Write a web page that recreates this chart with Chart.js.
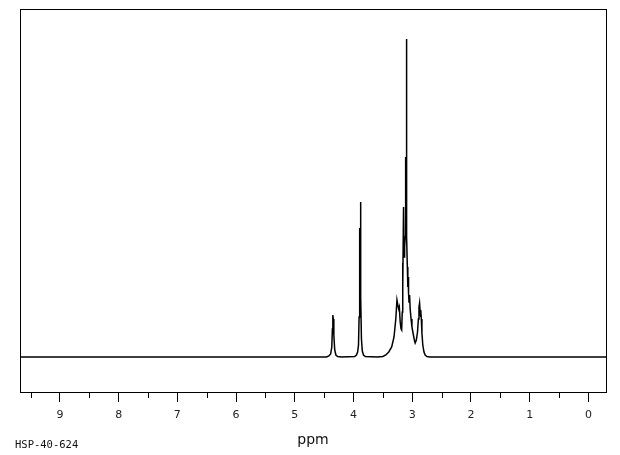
<!DOCTYPE html>
<html>
<head>
<meta charset="utf-8">
<script src="https://cdn.jsdelivr.net/npm/chart.js@4/dist/chart.umd.min.js"></script>
<style>
    html, body { margin: 0; padding: 0; background: #fff; }
    #wrap { width: 620px; height: 455px; position: relative; }
</style>
</head>
<body>
<div id="wrap"><canvas id="nmrChart"></canvas></div>
<script>
// Spectrum (chemical shift in ppm, intensity above baseline)
const shiftPpm = [
    9.68, 4.46, 4.42, 4.39, 4.37, 4.36, 4.352, 4.345, 4.335, 4.32, 4.30, 4.27, 4.20,
    3.98, 3.95, 3.93, 3.915, 3.905, 3.898, 3.892, 3.886, 3.881, 3.875, 3.865, 3.85, 3.83, 3.80, 3.60,
    3.50, 3.45, 3.40, 3.35, 3.31, 3.28, 3.26, 3.245, 3.23, 3.22, 3.205, 3.19, 3.18,
    3.17, 3.165, 3.158, 3.148, 3.14, 3.13, 3.12, 3.112, 3.106, 3.102, 3.096, 3.09, 3.083,
    3.075, 3.068, 3.063, 3.055, 3.045, 3.035, 3.02, 3.005, 2.98, 2.96, 2.95, 2.93, 2.91,
    2.895, 2.885, 2.875, 2.865, 2.858, 2.852, 2.845, 2.835, 2.82, 2.80, 2.78, 2.75, 2.70, -0.30
];
const intensity = [
    0, 0, 1, 3, 10, 28, 42, 38, 22, 7, 2, 0.5, 0,
    0.5, 2, 5, 12, 40, 129, 70, 90, 155, 60, 18, 6, 2, 0.5, 0,
    0.5, 2, 5, 10, 20, 38, 57, 52, 48, 50, 35, 28, 27,
    45, 94, 70, 150, 100, 110, 120, 200, 140, 318, 170, 120, 90,
    70, 80, 64, 55, 62, 48, 38, 30, 22, 16, 14, 17, 25,
    38, 50, 54, 45, 40, 47, 38, 24, 12, 5, 2, 0.5, 0, 0
];

// axis range and ticks
const ppmMin = -0.30;
const ppmMax = 9.68;
const intensityMin = -35;
const intensityMax = 348;
const tickStep = 0.5;

const spectrumPoints = shiftPpm.map((p, i) => ({ x: p, y: intensity[i] }));

// frame around the plot + short minor ticks at half ppm
const framePlugin = {
    id: 'frame',
    afterDraw(chart) {
        const ctx = chart.ctx;
        const area = chart.chartArea;
        const xScale = chart.scales.x;
        ctx.save();
        ctx.strokeStyle = '#000';
        ctx.lineWidth = 1;
        ctx.strokeRect(area.left + 0.5, area.top + 0.5, area.right - area.left, area.bottom - area.top);
        ctx.beginPath();
        xScale.ticks.forEach(t => {
            if (t.value % 1 !== 0) {
                const px = Math.round(xScale.getPixelForValue(t.value)) + 0.5;
                ctx.moveTo(px, area.bottom);
                ctx.lineTo(px, area.bottom + 6);
            }
        });
        ctx.stroke();
        ctx.restore();
    }
};

document.addEventListener('DOMContentLoaded', function() {
    const ctx = document.getElementById('nmrChart').getContext('2d');
    new Chart(ctx, {
        type: 'line',
        data: {
            datasets: [{
                data: spectrumPoints,
                borderColor: '#000',
                borderWidth: 1.5,
                pointRadius: 0,
                tension: 0,
                fill: false
            }]
        },
        options: {
            responsive: true,
            maintainAspectRatio: false,
            animation: false,
            events: [],
            layout: { padding: { left: 20, right: 14, top: 9, bottom: 0 } },
            plugins: {
                legend: { display: false },
                tooltip: { enabled: false }
            },
            scales: {
                x: {
                    type: 'linear',
                    reverse: true,
                    min: ppmMin,
                    max: ppmMax,
                    afterFit: function(scale) { scale.height = 63; },
                    border: { display: false },
                    grid: {
                        drawOnChartArea: false,
                        tickLength: 10,
                        tickWidth: 1,
                        tickColor: c => (c.tick && c.tick.value % 1 === 0) ? '#000' : 'rgba(0,0,0,0)'
                    },
                    ticks: {
                        stepSize: tickStep,
                        includeBounds: false,
                        autoSkip: false,
                        maxRotation: 0,
                        padding: 7,
                        color: '#222',
                        font: { family: 'DejaVu Sans', size: 11 },
                        callback: v => v % 1 === 0 ? String(v) : ''
                    },
                    title: {
                        display: true,
                        text: 'ppm',
                        color: '#111',
                        font: { family: 'DejaVu Sans', size: 14, lineHeight: 1 },
                        padding: { top: 0, bottom: 8 }
                    }
                },
                y: {
                    display: false,
                    min: intensityMin,
                    max: intensityMax
                }
            }
        },
        plugins: [framePlugin, {
            id: 'sampleCode',
            afterDraw(chart) {
                const c = chart.ctx;
                c.save();
                c.fillStyle = '#111';
                c.font = '10.5px "DejaVu Sans Mono"';
                c.textBaseline = 'middle';
                c.fillText('HSP-40-624', 15, 445);
                c.restore();
            }
        }]
    });
});
</script>
</body>
</html>
